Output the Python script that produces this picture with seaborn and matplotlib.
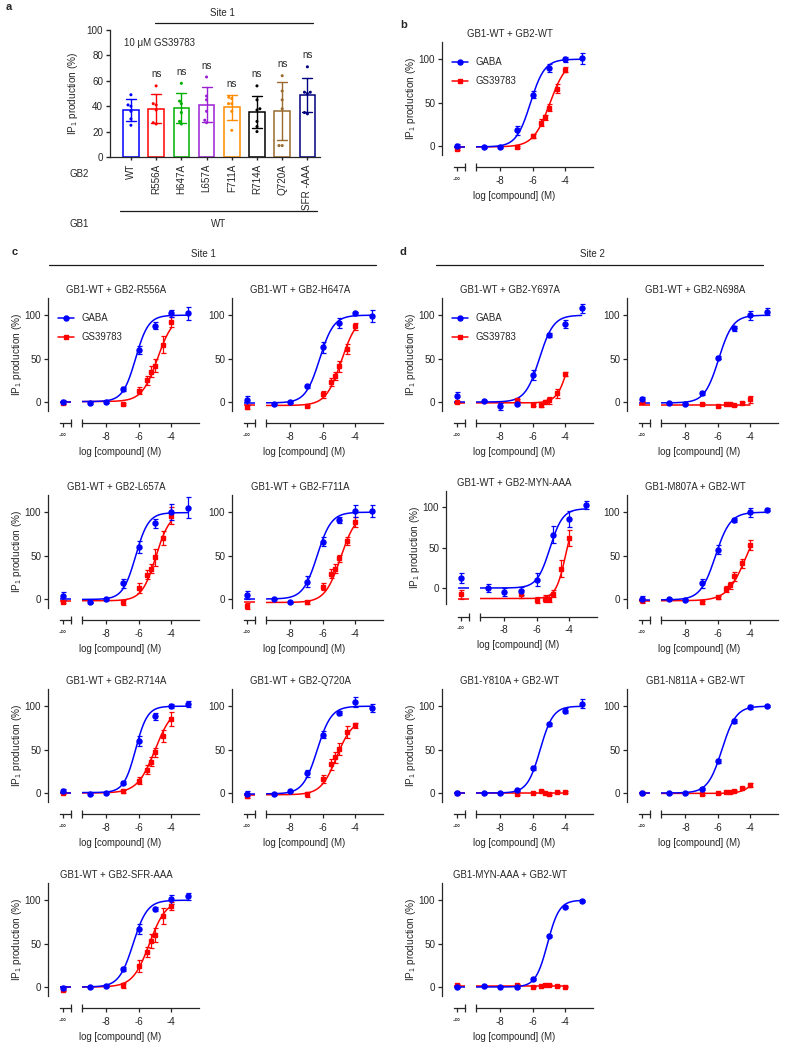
import numpy as np
import pandas as pd
import seaborn as sns
import matplotlib.pyplot as plt
from matplotlib.lines import Line2D

W, H = 785, 1050
BLUE = "#0000ff"
RED = "#ff0000"

# concentrations (log M); first value of every series below is the -inf point
GABA_X = [-9, -8, -7, -6, -5, -4, -3]
GS_X = [-7, -6, -5.5, -5.25, -5, -4.5, -4]

# ---- panel a: 10 uM GS39783
a_labels = ["WT", "R556A", "H647A", "L657A", "F711A", "R714A", "Q720A", "SFR -AAA"]
a_colors = ["#0000ff", "#ff0000", "#00b000", "#9a1fd2", "#ff8c00", "#000000", "#9a6a2e", "#00007f"]
a_wt = [49, 41, 40, 36, 30, 25]
a_r556a = [56, 42, 41, 37, 27, 26]
a_h647a = [58, 44, 42, 35, 28, 26]
a_l657a = [63, 48, 45, 36, 29, 27]
a_f711a = [47, 46, 42, 36, 21, 42]
a_r714a = [56, 45, 38, 37, 28, 24, 20]
a_q720a = [64, 52, 45, 38, 9, 9]
a_sfr = [71, 51, 51, 50, 34, 35]

# ---- dose responses: values, SEM, fit [bottom, top, logEC50, hill]
wt_gaba = [0, -1.5, -1, 18, 59, 90, 100, 101]
wt_gaba_err = [2, 1, 1, 5, 4, 5, 3, 6]
wt_gs = [-3, -1.5, 11.5, 27, 33, 44, 66, 88]
wt_gs_err = [2, 1, 2, 4, 3, 4, 5, 3]
wt_fit_gaba = [-1, 100, -6.15, 1.0]
wt_fit_gs = [-1, 100, -4.95, 0.85]

r556a_gaba = [0, -1, 0, 15, 60, 88, 102, 102]
r556a_gaba_err = [2, 1, 1, 2, 5, 4, 4, 7]
r556a_gs = [-1, -2, 13, 25, 35, 42, 66, 92]
r556a_gs_err = [1, 1, 4, 5, 6, 7, 10, 6]
r556a_fit_gaba = [0.5, 100, -6.2, 1.1]
r556a_fit_gs = [0.5, 100, -4.85, 0.9]

h647a_gaba = [2, -2, 0, 18, 63, 91, 102, 99]
h647a_gaba_err = [5, 1, 1, 2, 6, 6, 2, 7]
h647a_gs = [-6, -5, 9, 23, 30, 41, 61, 87]
h647a_gs_err = [2, 1, 4, 5, 5, 6, 6, 4]
h647a_fit_gaba = [-1, 100, -6.2, 1.0]
h647a_fit_gs = [-4, 100, -4.85, 0.9]

y697a_gaba = [6.5, 1, -5, -2, 31, 77, 90, 108]
y697a_gaba_err = [5, 1, 4, 2, 6, 2, 5, 5]
y697a_gs = [0, 2, -3, -4, 0.5, 2, 10, 32]
y697a_gs_err = [1, 1, 2, 2, 2, 4, 5, 2]
y697a_fit_gaba = [0, 100, -5.6, 1.0]
y697a_fit_gs = [-1, 100, -3.72, 1.2]

n698a_gaba = [3, -1, -2, 10, 51, 85, 100, 104]
n698a_gaba_err = [3, 1, 1, 2, 2, 3, 5, 4]
n698a_gs = [0, -2, -5, -2, -2, -4, -1, 3]
n698a_gs_err = [1, 1, 1, 1, 1, 1, 1, 4]
n698a_fit_gaba = [-1, 100, -5.95, 1.0]
n698a_fit_gs = [-3, -3, -5, 1.0]

l657a_gaba = [3.5, -4, 0, 18, 60, 87, 100, 105]
l657a_gaba_err = [5, 1, 1, 5, 7, 5, 9, 12]
l657a_gs = [-3, -4, 13, 28, 35, 48, 70, 96]
l657a_gs_err = [2, 3, 6, 5, 5, 10, 8, 10]
l657a_fit_gaba = [-0.5, 99.5, -6.2, 1.1]
l657a_fit_gs = [-2, 100, -4.95, 1.0]

f711a_gaba = [4.5, 0.5, -4, 20, 66, 91, 101.5, 101.5]
f711a_gaba_err = [5, 1, 1, 6, 5, 3, 7, 7]
f711a_gs = [-8, -4, 14, 29, 35, 47, 67, 89]
f711a_gs_err = [3, 2, 4, 5, 5, 4, 5, 6]
f711a_fit_gaba = [0, 100, -6.35, 1.0]
f711a_fit_gs = [-4, 100, -4.9, 0.9]

myn2_gaba = [12, 0, -5, -4, 10, 66, 85, 103]
myn2_gaba_err = [6, 5, 5, 5, 8, 10, 10, 5]
myn2_gs = [-8, -7, -14.5, -13, -13, -7, 24, 62]
myn2_gs_err = [6, 5, 4, 4, 4, 4, 10, 10]
myn2_fit_gaba = [0, 98, -5.2, 1.1]
myn2_fit_gs = [-13, 100, -4.2, 1.4]

m807a_gaba = [0, 0, -1, 18, 57, 91, 100, 103]
m807a_gaba_err = [4, 1, 1, 5, 5, 2, 5, 2]
m807a_gs = [-1.5, -4, 2, 11.5, 16, 26, 41, 62.5]
m807a_gs_err = [3, 2, 2, 4, 4, 5, 5, 6]
m807a_fit_gaba = [-1, 100, -6.15, 0.95]
m807a_fit_gs = [-2, 100, -4.25, 0.75]

r714a_gaba = [2.7, -1, 0, 12, 60, 88.5, 100, 102.5]
r714a_gaba_err = [2, 1, 1, 2, 6, 4, 2, 3]
r714a_gs = [0, 2, 14, 27, 36, 47, 65.5, 85]
r714a_gs_err = [1, 2, 4, 5, 5, 5, 7, 8]
r714a_fit_gaba = [0.5, 100, -6.2, 1.2]
r714a_fit_gs = [0, 100, -5.0, 0.8]

q720a_gaba = [-1, -1.5, 2.7, 22.6, 67, 92, 105, 98]
q720a_gaba_err = [3, 1, 1, 4, 4, 2, 6, 5]
q720a_gs = [-3.5, -1.5, 16, 33, 41, 51, 70, 78]
q720a_gs_err = [2, 3, 5, 6, 6, 7, 7, 3]
q720a_fit_gaba = [-1, 100, -6.35, 1.0]
q720a_fit_gs = [-2, 85, -5.15, 0.9]

y810a_gaba = [0, 0, 0, 3.5, 29, 79, 95, 103]
y810a_gaba_err = [1, 1, 1, 1, 2, 2, 3, 5]
y810a_gs = [0, -1, 0.5, 2, -0.5, -1, 1, 1]
y810a_gs_err = [1, 1, 1, 1, 1, 1, 1, 1]
y810a_fit_gaba = [0, 100, -5.55, 1.1]
y810a_fit_gs = [0, 0, -5, 1.0]

n811a_gaba = [0, 0, 0, 5, 37, 83, 99, 100]
n811a_gaba_err = [1, 1, 1, 1, 2, 2, 2, 1]
n811a_gs = [0, -1, -0.5, 1, 1.5, 2, 5.5, 9]
n811a_gs_err = [1, 1, 1, 1, 1, 1, 1, 2]
n811a_fit_gaba = [0, 100, -5.75, 1.0]
n811a_fit_gs = [-0.5, 100, -3.0, 1.0]

sfr_gaba = [-1, 0, 1, 21, 67, 90, 101, 104.5]
sfr_gaba_err = [2, 1, 1, 2, 6, 2, 5, 4]
sfr_gs = [-3, 2, 24, 40, 53, 60, 81.5, 93.5]
sfr_gs_err = [2, 3, 7, 6, 8, 8, 9, 5]
sfr_fit_gaba = [0, 100, -6.35, 1.0]
sfr_fit_gs = [0, 100, -5.35, 0.85]

myn1_gaba = [0, 1, 0.5, 0, 9, 58.5, 92, 99]
myn1_gaba_err = [1, 1, 1, 1, 1, 1, 1, 1]
myn1_gs = [2, 2, 0.5, 1, 2, 2, 1.5, 0.5]
myn1_gs_err = [1, 1, 1, 1, 1, 1, 1, 1]
myn1_fit_gaba = [0, 100, -5.1, 1.2]
myn1_fit_gs = [1, 1, -5, 1.0]

sns.set_theme(context="paper", style="ticks")
plt.rcParams["font.family"] = ["Liberation Sans", "DejaVu Sans"]
plt.rcParams.update({
    "font.size": 6.8, "axes.linewidth": 0.9, "axes.unicode_minus": False,
    "xtick.labelsize": 7.1, "ytick.labelsize": 7.1,
    "mathtext.fontset": "custom", "mathtext.rm": "Liberation Sans",
    "mathtext.it": "Liberation Sans:italic", "mathtext.bf": "Liberation Sans:bold",
})

fig = plt.figure(figsize=(W / 100, H / 100), dpi=100)


def fx(px):
    return px / W


def fy(py):
    return 1 - py / H


def hline(x0, x1, y):
    fig.add_artist(Line2D([fx(x0), fx(x1)], [fy(y), fy(y)], color="k", lw=0.9))


def hill(x, p):
    b, t, ec, h = p
    return b + (t - b) / (1 + 10 ** (h * (ec - np.asarray(x))))


YLAB = "IP$_1$ production (%)"
YLAB_FS = 7.2

# ---------------- panel a
ax_a = fig.add_axes([fx(110), fy(157), 210 / W, 127 / H])
df_a = pd.DataFrame(
    [(lab, v) for lab, vals in zip(a_labels, [a_wt, a_r556a, a_h647a, a_l657a,
                                               a_f711a, a_r714a, a_q720a, a_sfr])
     for v in vals],
    columns=["GB2", "IP1"])
sns.barplot(data=df_a, x="GB2", y="IP1", hue="GB2", order=a_labels, hue_order=a_labels,
            palette=a_colors, fill=False, errorbar="sd", capsize=0.4, width=0.62,
            linewidth=1.1, err_kws={"linewidth": 1.0}, legend=False, ax=ax_a)
sns.swarmplot(data=df_a, x="GB2", y="IP1", hue="GB2", order=a_labels, hue_order=a_labels,
              palette=a_colors, size=2.2, legend=False, ax=ax_a)
ax_a.set_xlim(-0.83, 7.5)
ax_a.set_ylim(0, 100)
ax_a.set_yticks(range(0, 101, 20))
ax_a.set_xlabel("")
ax_a.set_ylabel("")
ax_a.tick_params(axis="x", rotation=90, length=2, pad=3)
ax_a.tick_params(axis="y", length=3, pad=2)
sns.despine(ax=ax_a)
for i, vals in enumerate([a_r556a, a_h647a, a_l657a, a_f711a, a_r714a, a_q720a, a_sfr], start=1):
    top = max(max(vals), np.mean(vals) + np.std(vals, ddof=1))
    ax_a.text(i, top + 9, "ns", ha="center", va="center", fontsize=7)
fig.text(fx(73), fy(93), YLAB, rotation=90, ha="center", va="center", fontsize=YLAB_FS)
fig.text(fx(124), fy(43), "10 μM GS39783", ha="left", va="center", fontsize=7)
fig.text(fx(70), fy(174), "GB2", ha="left", va="center", fontsize=7)
fig.text(fx(70), fy(224), "GB1", ha="left", va="center", fontsize=7)
fig.text(fx(219), fy(224), "WT", ha="center", va="center", fontsize=7)
hline(120, 317, 211)
fig.text(fx(222), fy(13), "Site 1", ha="center", va="center", fontsize=7)
hline(155, 313, 23)
fig.text(fx(6), fy(7), "a", fontsize=8, fontweight="bold", ha="left", va="center")


# ---------------- dose-response panels
def dose_panel(xs, y0, title, gaba, gaba_err, gs, gs_err, fit_gaba, fit_gs,
               ylim=(-10, 120), s=0.868, ylabel=False, legend=False):
    top = y0 - ylim[1] * s
    bot = y0 - ylim[0] * s
    hgt = (bot - top) / H
    axi = fig.add_axes([fx(xs + 12), fy(bot), 11 / W, hgt])
    ax = fig.add_axes([fx(xs + 34), fy(bot), 117 / W, hgt])

    cx_gaba = np.linspace(-9.5, GABA_X[-1], 300)
    cx_gs = np.linspace(-9.5, GS_X[-1], 300)
    sns.lineplot(x=cx_gs, y=hill(cx_gs, fit_gs), color=RED, lw=1.1, ax=ax)
    sns.lineplot(x=cx_gaba, y=hill(cx_gaba, fit_gaba), color=BLUE, lw=1.1, ax=ax)
    ekw = dict(capsize=1.8, elinewidth=0.9, capthick=0.9, clip_on=False, zorder=3)
    ax.errorbar(GS_X, gs[1:], yerr=gs_err[1:], fmt="s", ms=3.4, color=RED, **ekw)
    ax.errorbar(GABA_X, gaba[1:], yerr=gaba_err[1:], fmt="o", ms=3.6, color=BLUE, **ekw)

    sns.lineplot(x=[0, 1], y=[fit_gs[0], fit_gs[0]], color=RED, lw=1.1, ax=axi)
    sns.lineplot(x=[0, 1], y=[fit_gaba[0], fit_gaba[0]], color=BLUE, lw=1.1, ax=axi)
    axi.errorbar([0.27], gs[:1], yerr=gs_err[:1], fmt="s", ms=3.4, color=RED, **ekw)
    axi.errorbar([0.27], gaba[:1], yerr=gaba_err[:1], fmt="o", ms=3.6, color=BLUE, **ekw)

    for a in (axi, ax):
        a.set_ylim(*ylim)
        a.patch.set_visible(False)
        sns.despine(ax=a)
        a.spines["bottom"].set_position(("outward", 9))
        a.tick_params(axis="x", which="major", direction="out", length=3, width=0.9, pad=3)
        a.tick_params(axis="x", which="minor", direction="inout", length=6, width=0.9)
    ax.set_xlim(-9.5, -2.3)
    ax.set_xticks([-8, -6, -4])
    ax.set_xticks([-9.5], minor=True)
    ax.spines["left"].set_visible(False)
    ax.tick_params(axis="y", left=False, labelleft=False)

    axi.set_xlim(0, 1)
    axi.set_xticks([0.27])
    axi.set_xticklabels(["-∞"], fontsize=5.5)
    axi.set_xticks([1.0], minor=True)
    axi.spines["left"].set_position(("outward", 8.6))
    axi.set_yticks([0, 50, 100])
    axi.tick_params(axis="y", length=3, width=0.9, pad=2)

    fig.text(fx(xs + 68), fy(top - 7.5), title, ha="center", va="center", fontsize=6.9)
    fig.text(fx(xs + 72), fy(bot + 41), "log [compound] (M)", ha="center", va="center",
             fontsize=6.9)
    if ylabel:
        fig.text(fx(xs - 31), fy((top + bot) / 2), YLAB, rotation=90, ha="center",
                 va="center", fontsize=YLAB_FS)
    if legend:
        handles = [Line2D([], [], color=BLUE, marker="o", ms=3.6, lw=1.1, label="GABA"),
                   Line2D([], [], color=RED, marker="s", ms=3.4, lw=1.1, label="GS39783")]
        ax.legend(handles=handles, loc="upper left", frameon=False, fontsize=6.9,
                  bbox_to_anchor=(fx(xs + 10), fy(y0 - 89)), bbox_transform=fig.transFigure,
                  borderpad=0, borderaxespad=0, handlelength=1.7, handletextpad=0.7,
                  labelspacing=0.95)


dose_panel(442, 146, "GB1-WT + GB2-WT", wt_gaba, wt_gaba_err, wt_gs, wt_gs_err,
           wt_fit_gaba, wt_fit_gs, ylabel=True, legend=True)
fig.text(fx(400), fy(25), "b", fontsize=8, fontweight="bold", ha="left", va="center")

fig.text(fx(12), fy(252), "c", fontsize=8, fontweight="bold", ha="left", va="center")
fig.text(fx(203), fy(254), "Site 1", ha="center", va="center", fontsize=7)
hline(49, 376, 265)
fig.text(fx(400), fy(252), "d", fontsize=8, fontweight="bold", ha="left", va="center")
fig.text(fx(592), fy(254), "Site 2", ha="center", va="center", fontsize=7)
hline(436, 763, 265)

dose_panel(48, 402, "GB1-WT + GB2-R556A", r556a_gaba, r556a_gaba_err, r556a_gs, r556a_gs_err,
           r556a_fit_gaba, r556a_fit_gs, ylabel=True, legend=True)
dose_panel(232, 402, "GB1-WT + GB2-H647A", h647a_gaba, h647a_gaba_err, h647a_gs, h647a_gs_err,
           h647a_fit_gaba, h647a_fit_gs)
dose_panel(442, 402, "GB1-WT + GB2-Y697A", y697a_gaba, y697a_gaba_err, y697a_gs, y697a_gs_err,
           y697a_fit_gaba, y697a_fit_gs, ylabel=True, legend=True)
dose_panel(627, 402, "GB1-WT + GB2-N698A", n698a_gaba, n698a_gaba_err, n698a_gs, n698a_gs_err,
           n698a_fit_gaba, n698a_fit_gs)

dose_panel(48, 599, "GB1-WT + GB2-L657A", l657a_gaba, l657a_gaba_err, l657a_gs, l657a_gs_err,
           l657a_fit_gaba, l657a_fit_gs, ylabel=True)
dose_panel(232, 599, "GB1-WT + GB2-F711A", f711a_gaba, f711a_gaba_err, f711a_gs, f711a_gs_err,
           f711a_fit_gaba, f711a_fit_gs)
dose_panel(446, 588, "GB1-WT + GB2-MYN-AAA", myn2_gaba, myn2_gaba_err, myn2_gs, myn2_gs_err,
           myn2_fit_gaba, myn2_fit_gs, ylim=(-20, 120), s=0.81, ylabel=True)
dose_panel(627, 599, "GB1-M807A + GB2-WT", m807a_gaba, m807a_gaba_err, m807a_gs, m807a_gs_err,
           m807a_fit_gaba, m807a_fit_gs)

dose_panel(48, 793, "GB1-WT + GB2-R714A", r714a_gaba, r714a_gaba_err, r714a_gs, r714a_gs_err,
           r714a_fit_gaba, r714a_fit_gs, ylabel=True)
dose_panel(232, 793, "GB1-WT + GB2-Q720A", q720a_gaba, q720a_gaba_err, q720a_gs, q720a_gs_err,
           q720a_fit_gaba, q720a_fit_gs)
dose_panel(442, 793, "GB1-Y810A + GB2-WT", y810a_gaba, y810a_gaba_err, y810a_gs, y810a_gs_err,
           y810a_fit_gaba, y810a_fit_gs, ylabel=True)
dose_panel(627, 793, "GB1-N811A + GB2-WT", n811a_gaba, n811a_gaba_err, n811a_gs, n811a_gs_err,
           n811a_fit_gaba, n811a_fit_gs)

dose_panel(48, 987, "GB1-WT + GB2-SFR-AAA", sfr_gaba, sfr_gaba_err, sfr_gs, sfr_gs_err,
           sfr_fit_gaba, sfr_fit_gs, ylabel=True)
dose_panel(442, 987, "GB1-MYN-AAA + GB2-WT", myn1_gaba, myn1_gaba_err, myn1_gs, myn1_gs_err,
           myn1_fit_gaba, myn1_fit_gs, ylabel=True)

fig.savefig("out.png", dpi=100, facecolor="white")
